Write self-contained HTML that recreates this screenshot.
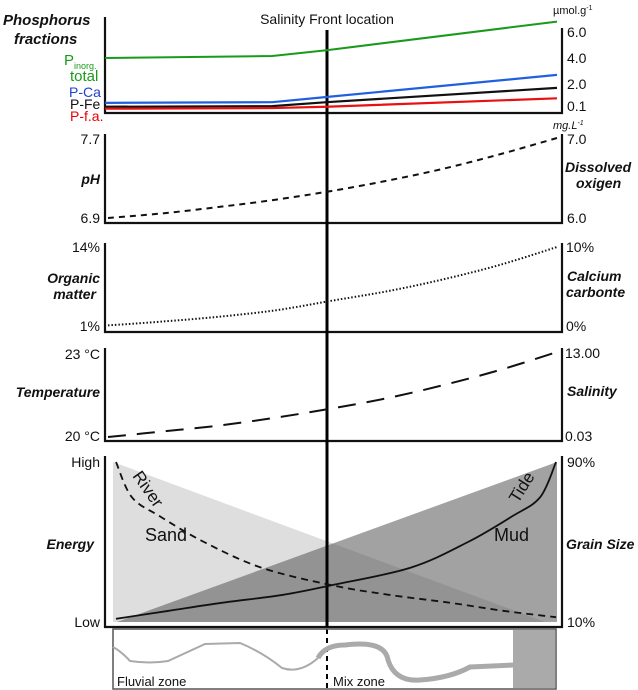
<!DOCTYPE html>
<html><head><meta charset="utf-8"><style>
body{margin:0;background:#fff}
svg{display:block;font-family:"Liberation Sans",sans-serif}
.t{font-size:14px;fill:#111}
.b{font-size:14px;font-weight:bold;font-style:italic;fill:#111}
</style></head><body>
<svg id="c" width="638" height="690" viewBox="0 0 638 690">
<g id="static">
<polygon points="113,462 113,622 545,622" fill="#dedede"/>
<polygon points="117,622 557,462 557,622" fill="rgba(85,85,85,0.55)"/>
<g stroke="#111" stroke-width="2.2" fill="none">
<polyline points="105,17 105,113 562,113 562,28"/>
<polyline points="105,134 105,223 562,223 562,134"/>
<polyline points="105,243 105,332 562,332 562,243"/>
<polyline points="105,348 105,441 562,441 562,348"/>
<polyline points="105,456 105,627 562,627 562,456"/>
</g>
<line x1="327" y1="30" x2="327" y2="627" stroke="#000" stroke-width="3"/>
<line x1="327" y1="629" x2="327" y2="690" stroke="#000" stroke-width="2" stroke-dasharray="5,4"/>
<rect x="113" y="629" width="443" height="60" fill="none" stroke="#555" stroke-width="1.5"/>
<rect x="513" y="630" width="42" height="58" fill="#aaa"/>
<path d="M113,647 Q122,652 130,661 Q150,664 168,661 L205,644 L240,643 Q262,652 282,668 Q300,674 318,658" stroke="#aaa" stroke-width="2" fill="none"/>
<path d="M318,658 Q325,645 345,645 Q385,640 388,660 Q395,682 420,680 Q450,678 470,667 L514,665" stroke="#aaa" stroke-width="5" fill="none"/>
<text x="117" y="686" class="t" style="font-size:13px">Fluvial zone</text>
<text x="333" y="686" class="t" style="font-size:13px">Mix zone</text>
<text x="327" y="24" class="t" text-anchor="middle">Salinity Front location</text>
<text x="3" y="25" class="b" style="font-size:15px">Phosphorus</text>
<text x="14" y="44" class="b" style="font-size:15px">fractions</text>
<text x="553" y="14" class="t" style="font-size:11px">µmol.g<tspan dy="-4" style="font-size:7px">-1</tspan></text>
<text x="64" y="65" class="t" style="fill:#1a9a1a;font-size:15px">P<tspan dy="4" style="font-size:9px">inorg.</tspan></text>
<text x="70" y="81" class="t" style="fill:#1a9a1a;font-size:15px">total</text>
<text x="69" y="97" class="t" style="fill:#1f3fcf">P-Ca</text>
<text x="70" y="109" class="t">P-Fe</text>
<text x="70" y="121" class="t" style="fill:#e00">P-f.a.</text>
<g class="t">
<text x="567" y="37" class="t">6.0</text><text x="567" y="63" class="t">4.0</text>
<text x="567" y="89" class="t">2.0</text><text x="567" y="111" class="t">0.1</text></g>
<text x="553" y="129" class="t" style="font-size:11px;font-style:italic">mg.L<tspan dy="-4" style="font-size:7px">-1</tspan></text>
<text x="100" y="144" class="t" text-anchor="end">7.7</text>
<text x="100" y="223" class="t" text-anchor="end">6.9</text>
<text x="100" y="184" class="b" text-anchor="end">pH</text>
<text x="567" y="144" class="t">7.0</text>
<text x="567" y="223" class="t">6.0</text>
<text x="565" y="172" class="b">Dissolved</text>
<text x="576" y="188" class="b">oxigen</text>
<text x="100" y="252" class="t" text-anchor="end">14%</text>
<text x="100" y="331" class="t" text-anchor="end">1%</text>
<text x="100" y="283" class="b" text-anchor="end">Organic</text>
<text x="96" y="299" class="b" text-anchor="end">matter</text>
<text x="566" y="252" class="t">10%</text>
<text x="566" y="331" class="t">0%</text>
<text x="567" y="281" class="b">Calcium</text>
<text x="566" y="297" class="b">carbonte</text>
<text x="100" y="359" class="t" text-anchor="end">23 °C</text>
<text x="100" y="441" class="t" text-anchor="end">20 °C</text>
<text x="100" y="397" class="b" text-anchor="end">Temperature</text>
<text x="565" y="358" class="t">13.00</text>
<text x="565" y="441" class="t">0.03</text>
<text x="567" y="396" class="b">Salinity</text>
<text x="100" y="467" class="t" text-anchor="end">High</text>
<text x="100" y="627" class="t" text-anchor="end">Low</text>
<text x="94" y="549" class="b" text-anchor="end">Energy</text>
<text x="567" y="467" class="t">90%</text>
<text x="567" y="627" class="t">10%</text>
<text x="566" y="549" class="b">Grain Size</text>
<text x="145" y="541" class="t" style="font-size:18px">Sand</text>
<text x="494" y="541" class="t" style="font-size:18px">Mud</text>
<text x="0" y="0" class="t" style="font-size:17px" transform="translate(132,476) rotate(55)">River</text>
<text x="0" y="0" class="t" style="font-size:17px" transform="translate(518,504) rotate(-58)">Tide</text>
</g>
<g id="marks"></g>
</svg>
<script>
const pPos = [0, 0.37, 0.49, 1];
const pInorgTotal = [4.0, 4.15, 4.6, 6.8];
const pCa = [0.55, 0.6, 1.0, 2.7];
const pFe = [0.25, 0.3, 0.6, 1.7];
const pFa = [0.1, 0.15, 0.25, 0.9];
const curvePos = [0, 0.125, 0.25, 0.375, 0.5, 0.625, 0.75, 0.875, 1];
const dissolvedOxygen = [6.0, 6.06, 6.14, 6.23, 6.34, 6.47, 6.62, 6.8, 7.0];
const calciumCarbonate = [0.2, 0.7, 1.3, 2.1, 3.3, 4.5, 6.0, 7.8, 10];
const salinity = [0.03, 0.9, 1.8, 3.0, 4.4, 6.0, 8.0, 10.3, 13.0];
const energyPos = [0, 0.036, 0.1, 0.2, 0.33, 0.49, 0.62, 0.76, 0.88, 1];
const riverEnergy = [1.0, 0.78, 0.66, 0.5, 0.34, 0.23, 0.17, 0.12, 0.07, 0.03];
const tidePos = [0, 0.12, 0.24, 0.38, 0.49, 0.67, 0.8, 0.9, 0.964, 1];
const tideEnergy = [0.02, 0.07, 0.12, 0.17, 0.23, 0.34, 0.5, 0.66, 0.78, 1.0];

const NS = 'http://www.w3.org/2000/svg';
const g = document.getElementById('marks');
const xP = t => 105 + t * 452;
const xC = t => 108 + t * 449;
const xE = t => 116 + t * 440;
const yP = v => 110 - 13 * v;
const yDO = v => 218 - (v - 6) * 80;
const yCa = v => 327 - v * 8;
const ySal = v => 437 - (v - 0.03) / 12.97 * 85;
const yE = v => 622 - v * 160;
function smooth(pts){
  let d = 'M' + pts[0][0] + ',' + pts[0][1];
  for (let i = 0; i < pts.length - 1; i++) {
    const p0 = pts[i-1] || pts[i], p1 = pts[i], p2 = pts[i+1], p3 = pts[i+2] || p2;
    const c1x = p1[0] + (p2[0]-p0[0])/6, c1y = p1[1] + (p2[1]-p0[1])/6;
    const c2x = p2[0] - (p3[0]-p1[0])/6, c2y = p2[1] - (p3[1]-p1[1])/6;
    d += ' C' + c1x + ',' + c1y + ' ' + c2x + ',' + c2y + ' ' + p2[0] + ',' + p2[1];
  }
  return d;
}
function draw(pos, vals, xf, yf, color, w, dash, name, curved){
  const pts = pos.map((t,i) => [xf(t), yf(vals[i])]);
  const p = document.createElementNS(NS, 'path');
  p.setAttribute('d', curved ? smooth(pts) : 'M' + pts.map(q => q.join(',')).join(' L'));
  p.setAttribute('fill', 'none');
  p.setAttribute('stroke', color);
  p.setAttribute('stroke-width', w);
  if (dash) p.setAttribute('stroke-dasharray', dash);
  
  
  g.appendChild(p);
}
draw(pPos, pInorgTotal, xP, yP, '#1a9a1a', 2, null, 'p-inorg-total-line', false);
draw(pPos, pCa, xP, yP, '#2060e0', 2.2, null, 'p-ca-line', false);
draw(pPos, pFe, xP, yP, '#111', 2.2, null, 'p-fe-line', false);
draw(pPos, pFa, xP, yP, '#e81010', 2.2, null, 'p-fa-line', false);
draw(curvePos, dissolvedOxygen, xC, yDO, '#111', 2, '6,5', 'dissolved-oxygen-curve', true);
draw(curvePos, calciumCarbonate, xC, yCa, '#111', 2, '1.5,2', 'calcium-carbonate-curve', true);
draw(curvePos, salinity, xC, ySal, '#111', 2, '18,11', 'salinity-curve', true);
draw(energyPos, riverEnergy, xE, yE, '#111', 1.8, '7,5', 'river-energy-curve', true);
draw(tidePos, tideEnergy, xE, yE, '#111', 1.8, null, 'tide-energy-curve', true);
</script>
</body></html>
